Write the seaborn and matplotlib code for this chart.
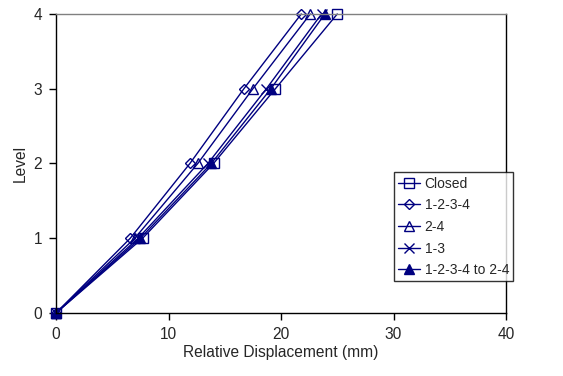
import matplotlib
matplotlib.use("Agg")
import matplotlib.pyplot as plt
import seaborn as sns
import pandas as pd

levels = [0, 1, 2, 3, 4]
closed = [0, 7.7, 14.0, 19.5, 25.0]
s1234 = [0, 6.6, 11.9, 16.7, 21.8]
s24 = [0, 7.0, 12.6, 17.5, 22.6]
s13 = [0, 7.3, 13.5, 18.7, 23.6]
s1234_24 = [0, 7.5, 13.8, 19.1, 23.9]

series = ["Closed", "1-2-3-4", "2-4", "1-3", "1-2-3-4 to 2-4"]
values = [closed, s1234, s24, s13, s1234_24]

sns.set_style("white")
plt.rcParams["font.family"] = ["Liberation Sans", "DejaVu Sans"]

navy = "#000080"
styles = {
    "Closed": dict(marker="s", mfc="none", ms=7),
    "1-2-3-4": dict(marker="D", mfc="none", ms=5),
    "2-4": dict(marker="^", mfc="none", ms=7),
    "1-3": dict(marker="x", mfc="none", ms=7),
    "1-2-3-4 to 2-4": dict(marker="^", mfc=navy, ms=7),
}

fig = plt.figure(figsize=(5.63, 3.76), dpi=100)
ax = fig.add_axes([0.0995, 0.1676, 0.7993, 0.7952])

for name, vals in zip(series, values):
    df = pd.DataFrame({"disp": vals, "level": levels})
    st = styles[name]
    sns.lineplot(data=df, x="disp", y="level", sort=False, estimator=None,
                 ax=ax, color=navy, lw=1, marker=st["marker"],
                 markerfacecolor=st["mfc"], markeredgecolor=navy,
                 markersize=st["ms"], markeredgewidth=1, label=name,
                 clip_on=False)

ax.set_xlim(0, 40)
ax.set_ylim(0, 4)
ax.set_xticks([0, 10, 20, 30, 40])
ax.set_yticks([0, 1, 2, 3, 4])
ax.set_xlabel("Relative Displacement (mm)", fontsize=11.2, labelpad=2)
ax.set_ylabel("Level", fontsize=11.2, labelpad=4)
ax.tick_params(axis="both", labelsize=11.2, direction="out", length=5,
               width=1, color="black", left=True, bottom=True, pad=5)
for side in ["left", "bottom", "right"]:
    ax.spines[side].set_color("black")
    ax.spines[side].set_linewidth(1)
ax.spines["top"].set_color("#808080")
ax.spines["top"].set_linewidth(1)

leg = ax.legend(loc="upper left", bbox_to_anchor=(0.751, 0.47),
                fontsize=10, frameon=True, fancybox=False, shadow=False,
                edgecolor="black", handlelength=1.6, handletextpad=0.3,
                labelspacing=0.55, borderpad=0.3, borderaxespad=0)
leg.get_frame().set_linewidth(1)

fig.savefig("out.png", dpi=100)
